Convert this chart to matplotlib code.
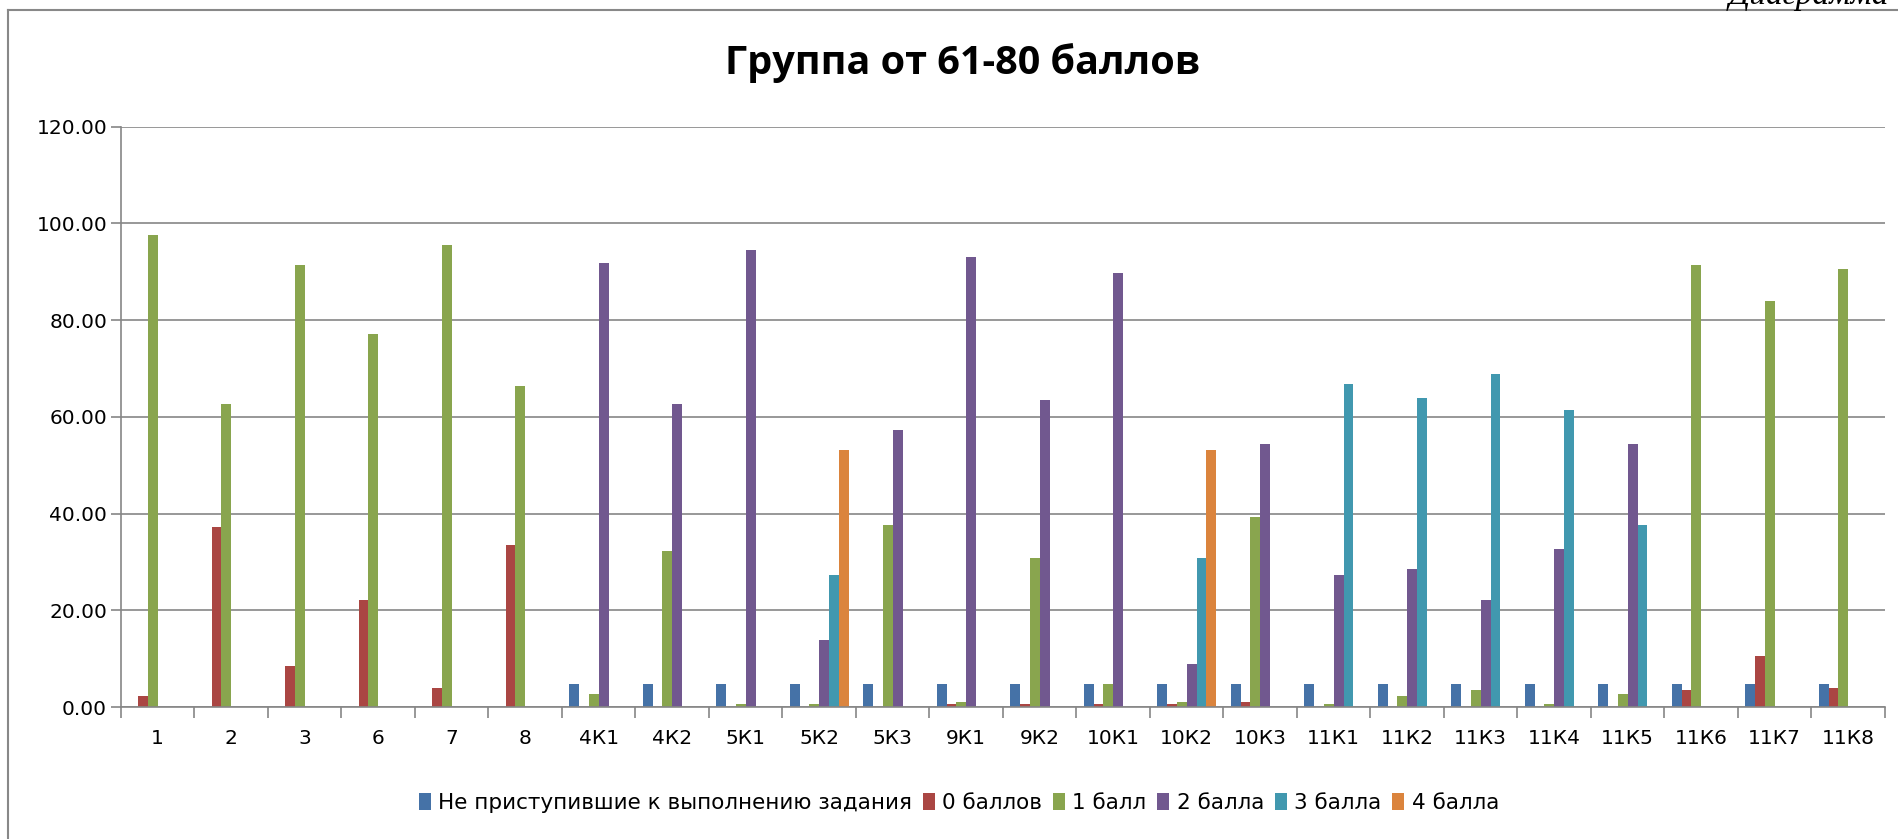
import matplotlib.pyplot as plt
import numpy as np
from matplotlib.lines import Line2D
from matplotlib.ticker import FormatStrFormatter, FixedLocator

# Categories (tasks) and share of students per score, %
categories = ['1', '2', '3', '6', '7', '8', '4К1', '4К2', '5К1', '5К2', '5К3', '9К1',
              '9К2', '10К1', '10К2', '10К3', '11К1', '11К2', '11К3', '11К4', '11К5',
              '11К6', '11К7', '11К8']
series_names = ['Не приступившие к выполнению задания', '0 баллов', '1 балл',
                '2 балла', '3 балла', '4 балла']

not_started = [0, 0, 0, 0, 0, 0] + [4.7] * 18
score_0 = [2.2, 37.2, 8.4, 22.2, 3.9, 33.5, 0, 0, 0, 0, 0, 0.6, 0.6, 0.6, 0.6, 1.0,
           0, 0, 0, 0, 0, 3.5, 10.5, 3.9]
score_1 = [97.6, 62.6, 91.4, 77.2, 95.6, 66.4, 2.6, 32.2, 0.6, 0.6, 37.6, 1.0, 30.9,
           4.7, 1.0, 39.3, 0.6, 2.2, 3.5, 0.6, 2.6, 91.4, 83.9, 90.6]
score_2 = [0, 0, 0, 0, 0, 0, 91.8, 62.6, 94.4, 13.9, 57.3, 93.1, 63.5, 89.7, 8.9, 54.3,
           27.2, 28.5, 22.2, 32.6, 54.3, 0, 0, 0]
score_3 = [0, 0, 0, 0, 0, 0, 0, 0, 0, 27.2, 0, 0, 0, 0, 30.9, 0,
           66.8, 63.8, 68.9, 61.4, 37.6, 0, 0, 0]
score_4 = [0, 0, 0, 0, 0, 0, 0, 0, 0, 53.1, 0, 0, 0, 0, 53.1, 0,
           0, 0, 0, 0, 0, 0, 0, 0]

colors = ['#4572A7', '#AA4643', '#89A54E', '#71588F', '#4198AF', '#DB843D']
all_series = [not_started, score_0, score_1, score_2, score_3, score_4]

fig = plt.figure(figsize=(18.99, 8.39), dpi=100)
ax = fig.add_axes([0.0637, 0.1573, 0.9289, 0.6917])

x = np.arange(len(categories))
n = len(all_series)
bw = 1 / 7.5
for i, (vals, name, c) in enumerate(zip(all_series, series_names, colors)):
    offs = -bw * n / 2 + bw * i + bw / 2
    ax.bar(x + offs, vals, width=bw, color=c, label=name, linewidth=0)

ax.set_xlim(-0.5, len(categories) - 0.5)
ax.set_ylim(0, 120)
ax.set_yticks(np.arange(0, 121, 20))
ax.yaxis.set_major_formatter(FormatStrFormatter('%.2f'))
ax.set_xticks(x)
ax.set_xticklabels(categories)
ax.xaxis.set_minor_locator(FixedLocator(np.arange(-0.5, len(categories), 1)))
ax.tick_params(axis='x', which='major', length=0, pad=16, labelsize=14.5)
ax.tick_params(axis='x', which='minor', length=8, width=1.2, color='#868686')
ax.tick_params(axis='y', length=7, width=1.2, color='#868686', pad=3, labelsize=14.5)

ax.grid(axis='y', color='#868686', linewidth=1.2)
ax.set_axisbelow(True)
for s in ['top', 'right']:
    ax.spines[s].set_visible(False)
for s in ['left', 'bottom']:
    ax.spines[s].set_color('#868686')
    ax.spines[s].set_linewidth(1.2)

fig.text(0.507, 0.925, 'Группа от 61-80 баллов', ha='center', va='center',
         fontsize=28.5, fontweight='bold', family='Open Sans')

fig.legend(loc='center', bbox_to_anchor=(0.505, 0.043), ncol=6, frameon=False,
           fontsize=15.5, handlelength=0.55, handleheight=0.8, handletextpad=0.35,
           columnspacing=0.5)

# chart frame and clipped caption above it
fig.add_artist(Line2D([8 / 1899, 8 / 1899], [0, 1 - 10 / 839], color='#888888', lw=1.5))
fig.add_artist(Line2D([8 / 1899, 1], [1 - 10 / 839, 1 - 10 / 839], color='#888888', lw=1.5))
fig.text(0.995, 1 - 4 / 839, 'Диаграмма', ha='right', va='baseline', fontsize=24,
         style='italic', family='Liberation Serif')

fig.savefig('out.png', dpi=100)
